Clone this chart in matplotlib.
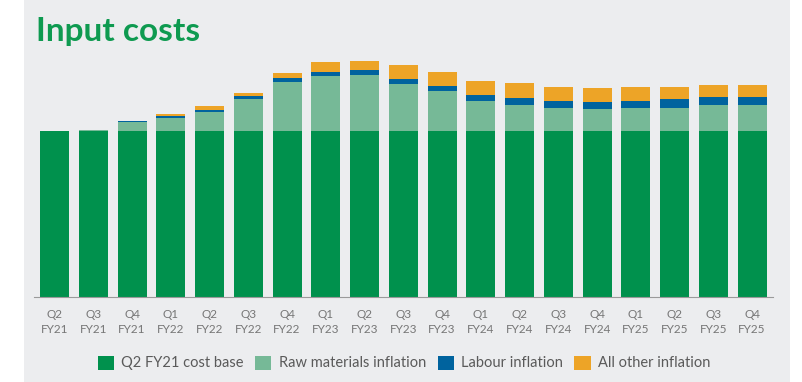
import matplotlib
matplotlib.use("Agg")
import matplotlib.pyplot as plt
from matplotlib.patches import Rectangle, Patch
import numpy as np

# quarters on the x axis
quarters = ["Q2\nFY21", "Q3\nFY21", "Q4\nFY21", "Q1\nFY22", "Q2\nFY22", "Q3\nFY22",
            "Q4\nFY22", "Q1\nFY23", "Q2\nFY23", "Q3\nFY23", "Q4\nFY23", "Q1\nFY24",
            "Q2\nFY24", "Q3\nFY24", "Q4\nFY24", "Q1\nFY25", "Q2\nFY25", "Q3\nFY25",
            "Q4\nFY25"]

# cost index, Q2 FY21 cost base = 100
cost_base = [100] * 19
raw_materials = [0, 0.6, 5.6, 7.7, 11.3, 19.1, 29.7, 33.1, 33.7, 28.1, 24.1, 18.1,
                 15.7, 14.0, 13.1, 14.0, 14.0, 15.7, 15.7]
labour = [0, 0, 0.3, 1.2, 1.4, 1.8, 2.0, 2.6, 3.0, 3.2, 3.2, 3.6,
          4.4, 4.0, 4.4, 4.2, 5.2, 5.0, 5.0]
other = [0, 0, 0, 1.2, 2.4, 2.2, 3.0, 5.7, 5.4, 8.4, 8.4, 8.4,
         8.7, 8.4, 8.4, 8.3, 7.4, 7.2, 7.2]

series_names = ["Q2 FY21 cost base", "Raw materials inflation", "Labour inflation",
                "All other inflation"]
colors = ["#00914D", "#76B997", "#00639E", "#EDA427"]

bg = "#ECEDEF"
plt.rcParams["font.family"] = ["Lato", "DejaVu Sans"]

fig = plt.figure(figsize=(8.02, 3.82), dpi=100)
fig.patch.set_facecolor("white")
# grey panel behind everything
fig.patches.append(Rectangle((24 / 802, 0), 766 / 802, 1, transform=fig.transFigure,
                             facecolor=bg, edgecolor="none", zorder=-5))

ax = fig.add_axes([34 / 802, 85 / 382, 739 / 802, 242 / 382])
ax.set_zorder(2)
ax.set_facecolor("none")

x = np.arange(len(quarters))
w = 0.75
bottom = np.zeros(len(quarters))
for vals, c in zip([cost_base, raw_materials, labour, other], colors):
    vals = np.array(vals, dtype=float)
    ax.bar(x, vals, w, bottom=bottom, color=c, edgecolor="none", zorder=2)
    bottom += vals

ax.set_xlim(-0.53, 18.54)
ax.set_ylim(0, 145.8)
ax.set_xticks(x)
ax.set_xticklabels(quarters, fontsize=8.5, color="#767676", linespacing=1.4)
ax.tick_params(axis="x", length=0, pad=9)
ax.set_yticks([])
for s in ["top", "right", "left"]:
    ax.spines[s].set_visible(False)
ax.spines["bottom"].set_color("#9A9A9A")
ax.spines["bottom"].set_linewidth(0.8)

fig.text(36 / 802, 1 - 41 / 382, "Input costs", fontsize=24, fontweight="bold",
         color="#0E9A50", zorder=3)

handles = [Patch(facecolor=c, edgecolor="none") for c in colors]
leg = fig.legend(handles, series_names, loc="center", bbox_to_anchor=(404 / 802, 1 - 363 / 382),
                 ncol=4, frameon=False, fontsize=10.5, handlelength=1.1, handleheight=1.1,
                 handletextpad=0.5, columnspacing=0.8, labelcolor="#5A5A5A")
leg.set_zorder(3)

fig.savefig("out.png", dpi=100, facecolor=fig.get_facecolor())
